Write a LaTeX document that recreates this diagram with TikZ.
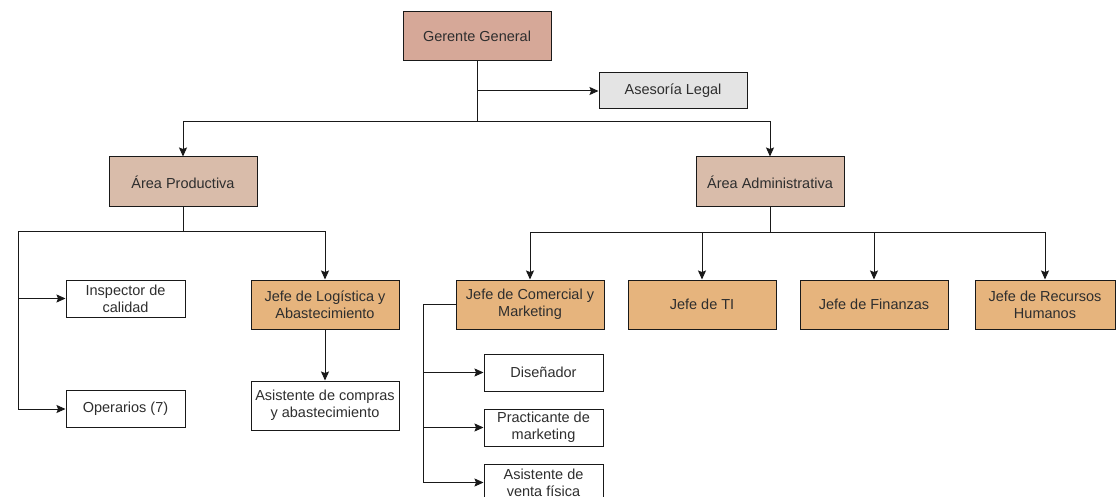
\documentclass[tikz,border=0pt]{standalone}
\usepackage{fontspec}
\setmainfont{Liberation Sans}
\usetikzlibrary{arrows.meta}
\definecolor{cger}{HTML}{D6A898}
\definecolor{carea}{HTML}{D9BCAA}
\definecolor{cjefe}{HTML}{E6B47D}
\definecolor{clegal}{HTML}{E4E4E4}
\definecolor{ctxt}{HTML}{2E2E2E}
\tikzset{
  orgbox/.style={draw=black!90, line width=1pt, align=center, inner sep=0pt,
    minimum width=148pt, minimum height=49pt, text=ctxt,
    font=\fontsize{14.5}{17}\selectfont},
  smallbox/.style={orgbox, fill=white, minimum width=119pt, minimum height=37pt},
  gerbox/.style={orgbox, fill=cger},
  areabox/.style={orgbox, fill=carea, minimum height=50pt},
  jefebox/.style={orgbox, fill=cjefe},
  legalbox/.style={orgbox, fill=clegal, minimum height=36pt},
  conn/.style={line width=1pt, draw=black!90},
  arr/.style={conn, -{Stealth[length=9pt,width=8pt,inset=1.5pt]}}
}
\begin{document}
\begin{tikzpicture}[x=1pt,y=-1pt]
\useasboundingbox[fill=white] (0,0) rectangle (1116,497);
% nodes
\node[gerbox] (gg) at (477,36.5) {Gerente General};
\node[legalbox] (legal) at (673,91) {Asesoría Legal};
\node[areabox] (prod) at (183,182) {Área Productiva};
\node[areabox] (admin) at (770,182) {Área Administrativa};
\node[smallbox] (insp) at (125.5,298.5) {Inspector de\\calidad};
\node[smallbox] (oper) at (125.5,409) {Operarios (7)};
\node[jefebox] (log) at (325,304.5) {Jefe de Logística y\\Abastecimiento};
\node[orgbox, fill=white] (asis) at (325,405.5) {Asistente de compras\\y abastecimiento};
\node[jefebox] (com) at (530,304.5) {Jefe de Comercial y\\Marketing};
\node[jefebox] (ti) at (702,304.5) {Jefe de TI};
\node[jefebox] (fin) at (874,304.5) {Jefe de Finanzas};
\node[jefebox, minimum width=140pt] (rrhh) at (1045,304.5) {Jefe de Recursos\\Humanos};
\node[smallbox] (dis) at (543.5,372.5) {Diseñador};
\node[smallbox] (prac) at (543.5,427.5) {Practicante de\\marketing};
\node[smallbox] (vent) at (543.5,482.5) {Asistente de\\venta física};
% junction coordinates
\coordinate (g1) at (477,122);
\coordinate (gl) at (477,91);
\coordinate (gL) at (183,122);
\coordinate (gR) at (770,122);
\coordinate (p1) at (183,231);
\coordinate (pL) at (18,231);
\coordinate (pR) at (325,231);
\coordinate (a1) at (770,232);
\coordinate (aL) at (530,232);
\coordinate (aR) at (1045,232);
\coordinate (c1) at (423,304.5);
% top level
\draw[conn] (gg.south) -- (g1);
\draw[arr] (gl) -- (legal.west);
\draw[arr] (g1) -- (gL) -- (prod.north);
\draw[arr] (g1) -- (gR) -- (admin.north);
% productive area
\draw[conn] (prod.south) -- (p1);
\draw[arr] (p1) -- (pR) -- (log.north);
\draw[arr] (p1) -- (pL) |- (oper.west);
\draw[arr] (pL |- insp.west) -- (insp.west);
\draw[arr] (log.south) -- (asis.north);
% administrative area
\draw[conn] (admin.south) -- (a1);
\draw[arr] (a1) -- (aL) -- (com.north);
\draw[arr] (a1) -- (aR) -- (rrhh.north);
\draw[arr] (ti.north |- a1) -- (ti.north);
\draw[arr] (fin.north |- a1) -- (fin.north);
% commercial
\draw[arr] (com.west) -- (c1) |- (vent.west);
\draw[arr] (c1 |- dis.west) -- (dis.west);
\draw[arr] (c1 |- prac.west) -- (prac.west);
\end{tikzpicture}
\end{document}
